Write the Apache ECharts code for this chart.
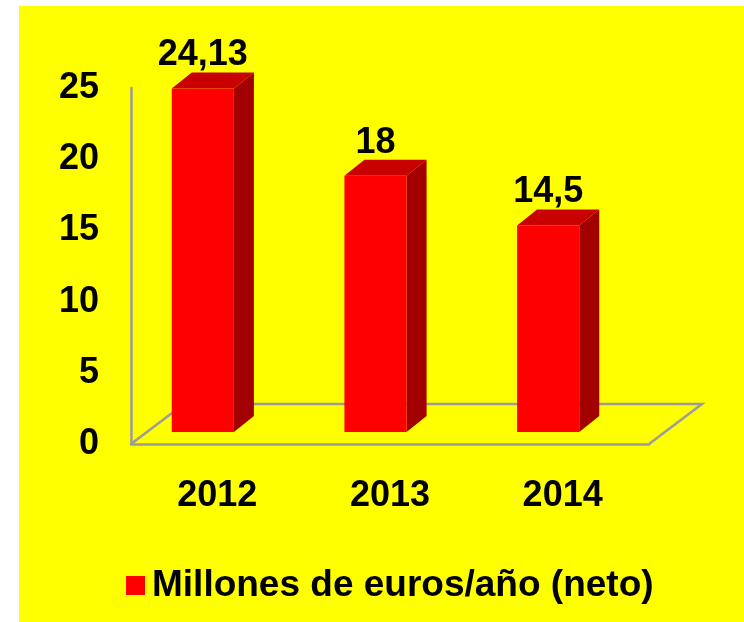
<!DOCTYPE html>
<html>
<head>
<meta charset="utf-8">
<style>
  html, body { margin: 0; padding: 0; background: #fff; }
  #chart { width: 744px; height: 622px; }
</style>
<script src="https://cdn.jsdelivr.net/npm/echarts@6/dist/echarts.min.js"></script>
</head>
<body>
<div id="chart"></div>
<script>
const categories = ['2012', '2013', '2014'];
const values = [24.13, 18, 14.5];
const valueLabels = ['24,13', '18', '14,5'];
const yTicks = [0, 5, 10, 15, 20, 25];
const seriesName = 'Millones de euros/año (neto)';

const FONT = '"Liberation Sans", Arial, sans-serif';
const GRID_LINE = '#9c9c9c';

// bars sit a little behind the axis plane
function renderBar(params, api) {
    const i = params.dataIndex;
    const top = api.coord([api.value(0), api.value(1)]);
    const base = api.coord([api.value(0), 0]);
    const halfW = api.size([1, 0])[0] * 0.36 / 2;
    const sx = -14.5, sy = -12, dx = 20, dy = -16;
    const x0 = top[0] + sx - halfW, x1 = top[0] + sx + halfW;
    const yT = top[1] + sy, yB = base[1] + sy;
    return {
        type: 'group',
        children: [
            { type: 'polygon', shape: { points: [[x1, yB], [x1 + dx, yB + dy], [x1 + dx, yT + dy], [x1, yT]] }, style: { fill: '#A30000' } },
            { type: 'polygon', shape: { points: [[x0, yT], [x1, yT], [x1 + dx, yT + dy], [x0 + dx, yT + dy]] }, style: { fill: '#C80000' } },
            { type: 'rect', shape: { x: x0, y: yT, width: x1 - x0, height: yB - yT }, style: { fill: '#FF0000' } },
            { type: 'text', style: { text: valueLabels[i], x: (x0 + x1) / 2, y: yT - 33, align: 'center', verticalAlign: 'middle', fontSize: 36, fontWeight: 'bold', fontFamily: FONT, fill: '#000' } }
        ]
    };
}

function renderFloor(params) {
    const cs = params.coordSys;
    const x = cs.x, y = cs.y + cs.height, w = cs.width;
    return {
        type: 'polyline',
        shape: { points: [[x, y], [x + 53, y - 40], [x + w + 53, y - 40], [x + w, y]] },
        style: { stroke: GRID_LINE, lineWidth: 2.5, fill: null }
    };
}

const chart = echarts.init(document.getElementById('chart'));

const option = {
    backgroundColor: '#fff',
    animation: false,
    graphic: [{
        type: 'rect', z: -10, silent: true,
        shape: { x: 19, y: 6, width: 725, height: 616 },
        style: { fill: '#FFFF00' }
    }],
    legend: {
        data: [seriesName],
        left: 121,
        top: 562,
        icon: 'rect',
        itemWidth: 19,
        itemHeight: 19,
        textStyle: { fontSize: 37, fontWeight: 'bold', color: '#000', fontFamily: FONT, padding: [0, 0, 0, 2] }
    },
    grid: { left: 131, right: 95, top: 88, bottom: 178 },
    xAxis: {
        type: 'category',
        data: categories,
        axisLine: { lineStyle: { color: GRID_LINE, width: 2.5 } },
        axisTick: { show: false },
        axisLabel: { fontSize: 36, fontWeight: 'bold', color: '#000', fontFamily: FONT, margin: 34 }
    },
    yAxis: {
        type: 'value',
        min: yTicks[0],
        max: yTicks[yTicks.length - 1],
        interval: yTicks[1] - yTicks[0],
        splitLine: { show: false },
        axisLine: { show: true, lineStyle: { color: GRID_LINE, width: 2.5 } },
        axisTick: { show: false },
        axisLabel: { fontSize: 36, fontWeight: 'bold', color: '#000', fontFamily: FONT, margin: 32 }
    },
    series: [
        {
            type: 'custom',
            z: 1,
            silent: true,
            renderItem: renderFloor,
            data: [0]
        },
        {
            name: seriesName,
            type: 'custom',
            z: 2,
            itemStyle: { color: '#FF0000' },
            renderItem: renderBar,
            data: categories.map((c, i) => [i, values[i]])
        }
    ]
};

chart.setOption(option);
</script>
</body>
</html>
